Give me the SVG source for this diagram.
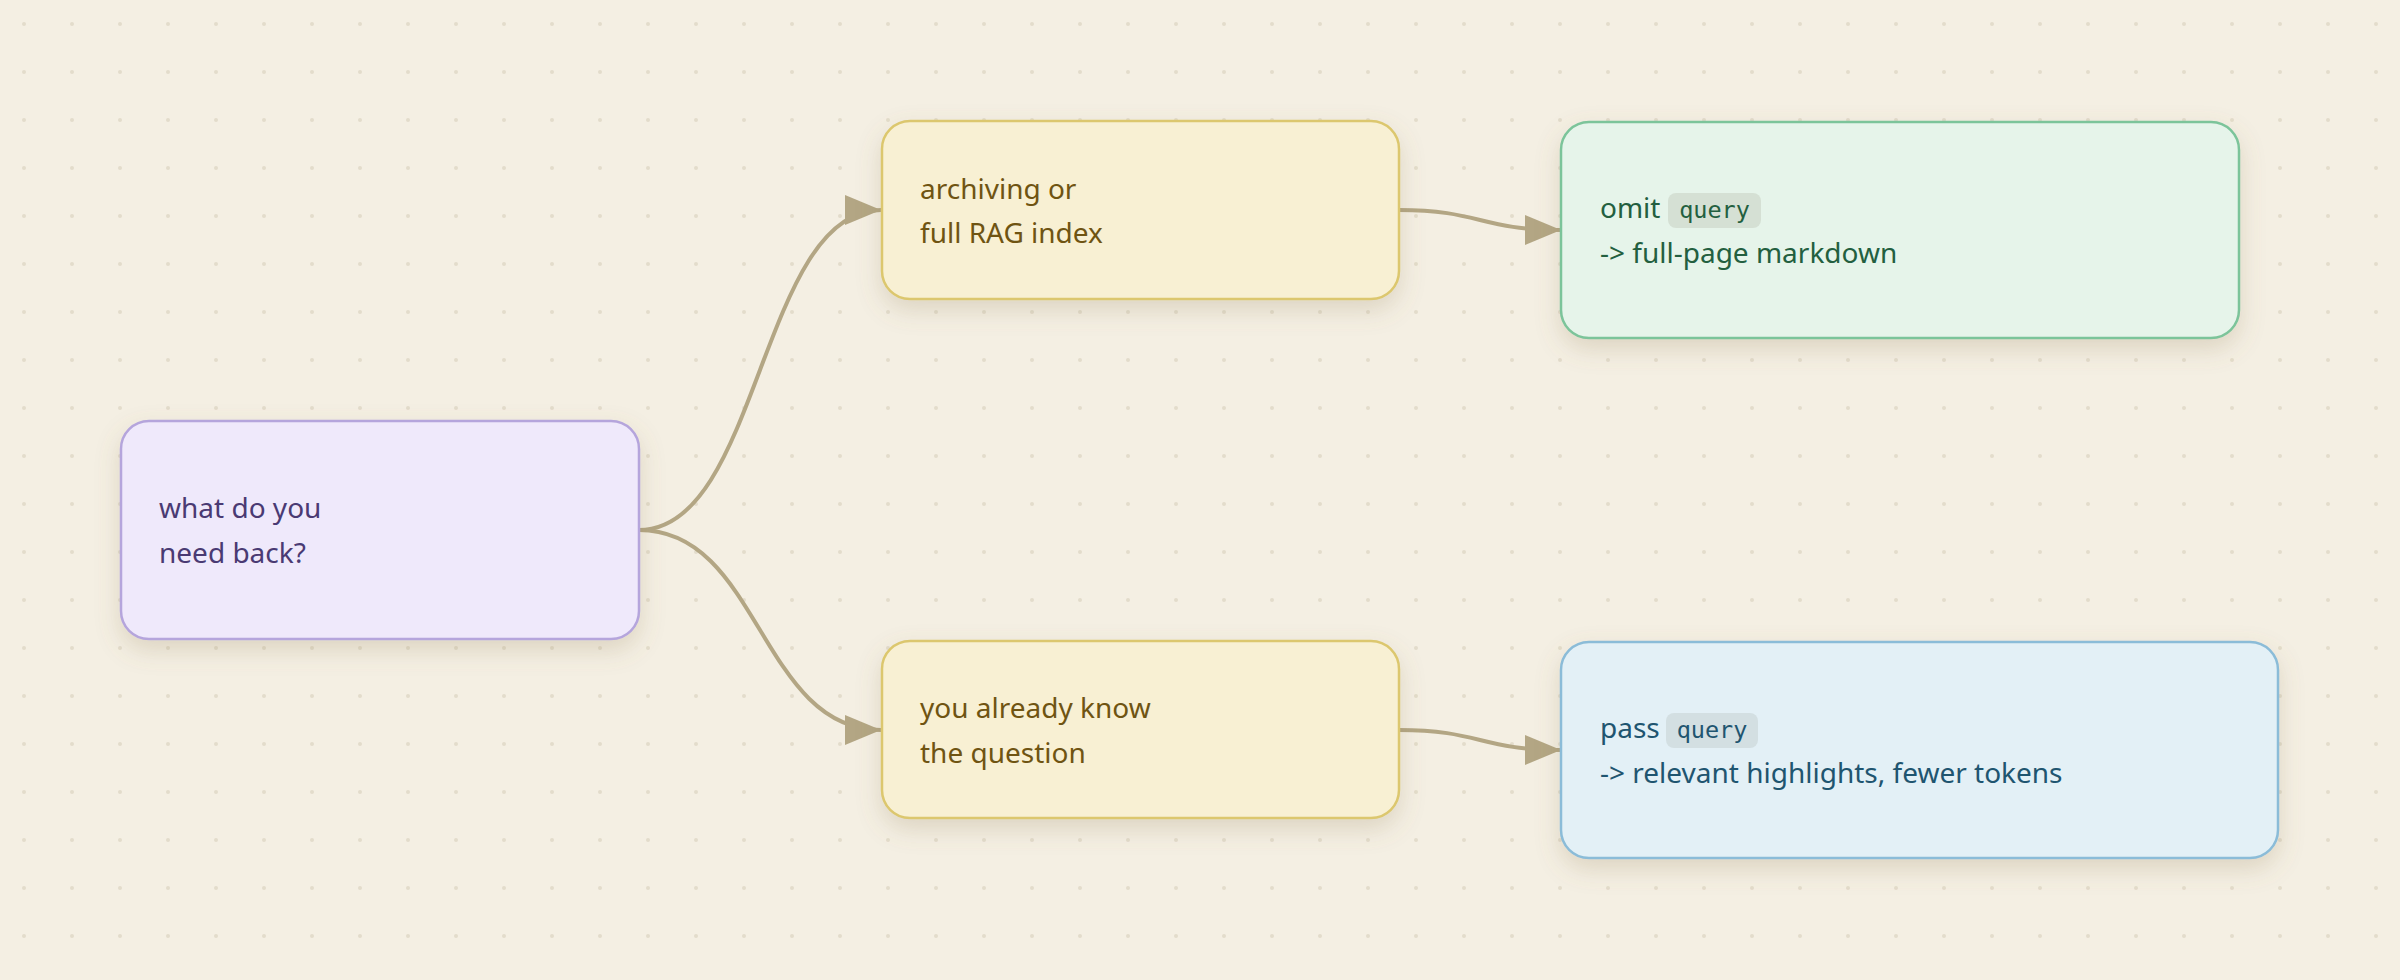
<svg xmlns="http://www.w3.org/2000/svg" width="2400" height="980" viewBox="0 0 2400 980">
  <defs>
    <pattern id="dots" x="0" y="0" width="48" height="48" patternUnits="userSpaceOnUse">
      <circle cx="24" cy="24" r="2" fill="#e3dccb"/>
    </pattern>
    <filter id="shadow" x="-20%" y="-30%" width="140%" height="170%">
      <feDropShadow dx="0" dy="10" stdDeviation="12" flood-color="#8a7550" flood-opacity="0.22"/>
    </filter>
    <marker id="arrow" markerUnits="userSpaceOnUse" markerWidth="36" markerHeight="30" refX="36" refY="15" orient="auto" viewBox="0 0 36 30">
      <path d="M0,0 L36,15 L0,30 Z" fill="#b3a684"/>
    </marker>
    <style>
      .node text { font-family: "Noto Sans", "Open Sans", sans-serif; font-size: 28px; }
      .node text.mono { font-family: "DejaVu Sans Mono", "Liberation Mono", monospace; font-size: 23.5px; }
      .box { stroke-width: 2.5; filter: url(#shadow); }
      .edge { fill: none; stroke: #b3a684; stroke-width: 4; marker-end: url(#arrow); }
    </style>
  </defs>
  <rect width="2400" height="980" fill="#f4efe3"/>
  <rect width="2400" height="980" fill="url(#dots)"/>

  <g id="connectors">
    <path class="edge" d="M639,530 C760,530 760,210 881,210"/>
    <path class="edge" d="M639,530 C760,530 760,730 881,730"/>
    <path class="edge" d="M1399,210 C1480,210 1480,230 1561,230"/>
    <path class="edge" d="M1399,730 C1480,730 1480,750 1561,750"/>
  </g>

  <g id="node-need" class="node">
    <rect class="box" x="121" y="421" width="518" height="218" rx="28" fill="#efe9fb" stroke="#b5a5dc"/>
    <text x="159" y="518" fill="#4a3a73">what do you</text>
    <text x="159" y="563" fill="#4a3a73">need back?</text>
  </g>

  <g id="node-archive" class="node">
    <rect class="box" x="882" y="121" width="517" height="178" rx="28" fill="#f8f0d3" stroke="#dcc76e"/>
    <text x="920" y="199" fill="#6f5412">archiving or</text>
    <text x="920" y="243" fill="#6f5412">full RAG index</text>
  </g>

  <g id="node-know" class="node">
    <rect class="box" x="882" y="641" width="517" height="177" rx="28" fill="#f8f0d3" stroke="#dcc76e"/>
    <text x="920" y="718" fill="#6f5412">you already know</text>
    <text x="920" y="763" fill="#6f5412">the question</text>
  </g>

  <g id="node-omit" class="node">
    <rect class="box" x="1561" y="122" width="678" height="216" rx="28" fill="#e6f4ea" stroke="#7cc49a"/>
    <text x="1600" y="218" fill="#235f40">omit</text>
    <rect x="1668" y="193" width="93" height="35" rx="8" fill="#d5e0d4"/>
    <text class="mono" x="1714.5" y="218" text-anchor="middle" fill="#235f40">query</text>
    <text x="1600" y="263" fill="#235f40">-&gt; full-page markdown</text>
  </g>

  <g id="node-pass" class="node">
    <rect class="box" x="1561" y="642" width="717" height="216" rx="28" fill="#e3f0f6" stroke="#8bbcd8"/>
    <text x="1600" y="738" fill="#1f5570">pass</text>
    <rect x="1666" y="713" width="92" height="35" rx="8" fill="#d3dfe2"/>
    <text class="mono" x="1712" y="738" text-anchor="middle" fill="#1f5570">query</text>
    <text x="1600" y="783" fill="#1f5570">-&gt; relevant highlights, fewer tokens</text>
  </g>
</svg>
